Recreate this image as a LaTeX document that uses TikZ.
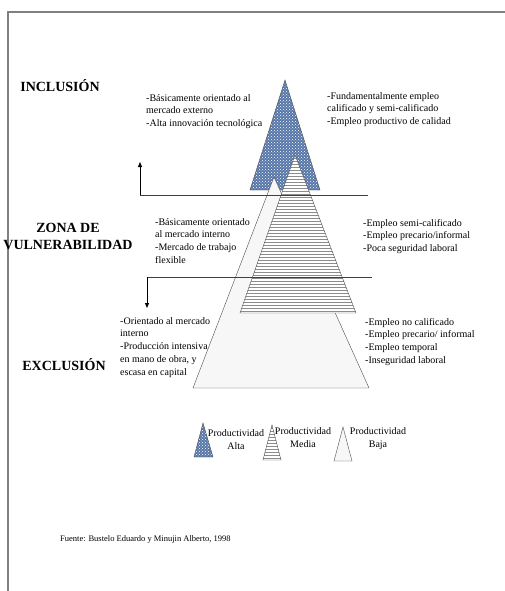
\documentclass[tikz,border=0pt]{standalone}
\usepackage{fontspec}
\setmainfont{Liberation Serif}
\usepackage{tikz}
\usetikzlibrary{arrows.meta,patterns}
\definecolor{hiblue}{RGB}{86,118,168}
\tikzset{
  zone/.style={font=\fontsize{14}{17}\selectfont\bfseries, align=center, inner sep=0pt, anchor=base},
  note/.style={font=\fontsize{10}{12.8}\selectfont, align=left, inner sep=0pt, anchor=base west},
  legend/.style={font=\fontsize{10}{13.5}\selectfont, align=center, inner sep=0pt, anchor=base},
  alta/.style={draw=black!70, preaction={fill=hiblue}, pattern=crosshatch dots, pattern color=white},
  media/.style={draw=black!70, preaction={fill=white}, pattern=horizontal lines, pattern color=black!45},
  baja/.style={draw=black!70, fill=black!3},
  divider/.style={draw=black!75, line width=0.8pt},
  flow/.style={-{Triangle[length=5pt,width=4pt]}, line width=0.8pt}
}
\begin{document}
\begin{tikzpicture}[x=1pt,y=-1pt]
  \useasboundingbox (0,0) rectangle (505,591);
  \draw[gray, line width=1.5pt] (8,591) -- (8,12) -- (505,12);

  % the three pyramids
  \draw[alta] (285,80) -- (320,190) -- (250,190) -- cycle;
  \draw[baja] (274,177) -- (369,388) -- (193,388) -- cycle;
  \draw[media] (295,155) -- (356,313) -- (240,313) -- cycle;

  % zone borders
  \coordinate (up0) at (140,195);
  \coordinate (upE) at (368,195);
  \coordinate (up1) at (140,162);
  \coordinate (dn0) at (147,277);
  \coordinate (dnE) at (372,277);
  \coordinate (dn1) at (147,308);
  \draw[divider] (up0) -- (upE);
  \draw[divider] (dn0) -- (dnE);
  \draw[flow] (up0) -- (up1);
  \draw[flow] (dn0) -- (dn1);

  % base anchor = last line
  \node[zone] (incl) at (60,92) {INCLUSIÓN};
  \node[zone] (vuln) at (68,249) {ZONA DE\\VULNERABILIDAD};
  \node[zone] (excl) at (64,370) {EXCLUSIÓN};

  \node[note] (inclL) at (146,126.6) {-Básicamente orientado al\\mercado externo\\-Alta innovación tecnológica};
  \node[note] (inclR) at (327,124.6) {-Fundamentalmente empleo\\calificado y semi-calificado\\-Empleo productivo de calidad};
  \node[note] (vulnL) at (155,263.4) {-Básicamente orientado\\al mercado interno\\-Mercado de trabajo\\flexible};
  \node[note] (vulnR) at (363,251.6) {-Empleo semi-calificado\\-Empleo precario/informal\\-Poca seguridad laboral};
  \node[note] (exclL) at (120,375.2) {-Orientado al mercado\\interno\\-Producción intensiva\\en mano de obra, y\\escasa en capital};
  \node[note] (exclR) at (365,363.4) {-Empleo no calificado\\-Empleo precario/ informal\\-Empleo temporal\\-Inseguridad laboral};

  % legend
  \draw[alta] (203,423) -- (213,457) -- (194,457) -- cycle;
  \draw[media] (272,425) -- (281,460) -- (263,460) -- cycle;
  \draw[baja] (343,427) -- (352,461) -- (334,461) -- cycle;
  \node[legend] (lalta) at (236,449.5) {Productividad\\Alta};
  \node[legend] (lmedia) at (303,447.5) {Productividad\\Media};
  \node[legend] (lbaja) at (378,447.5) {Productividad\\Baja};

  \node[anchor=base west, inner sep=0pt, font=\fontsize{8.5}{10}\selectfont] (src) at (60,541) {Fuente: Bustelo Eduardo y Minujin Alberto, 1998};
\end{tikzpicture}
\end{document}
